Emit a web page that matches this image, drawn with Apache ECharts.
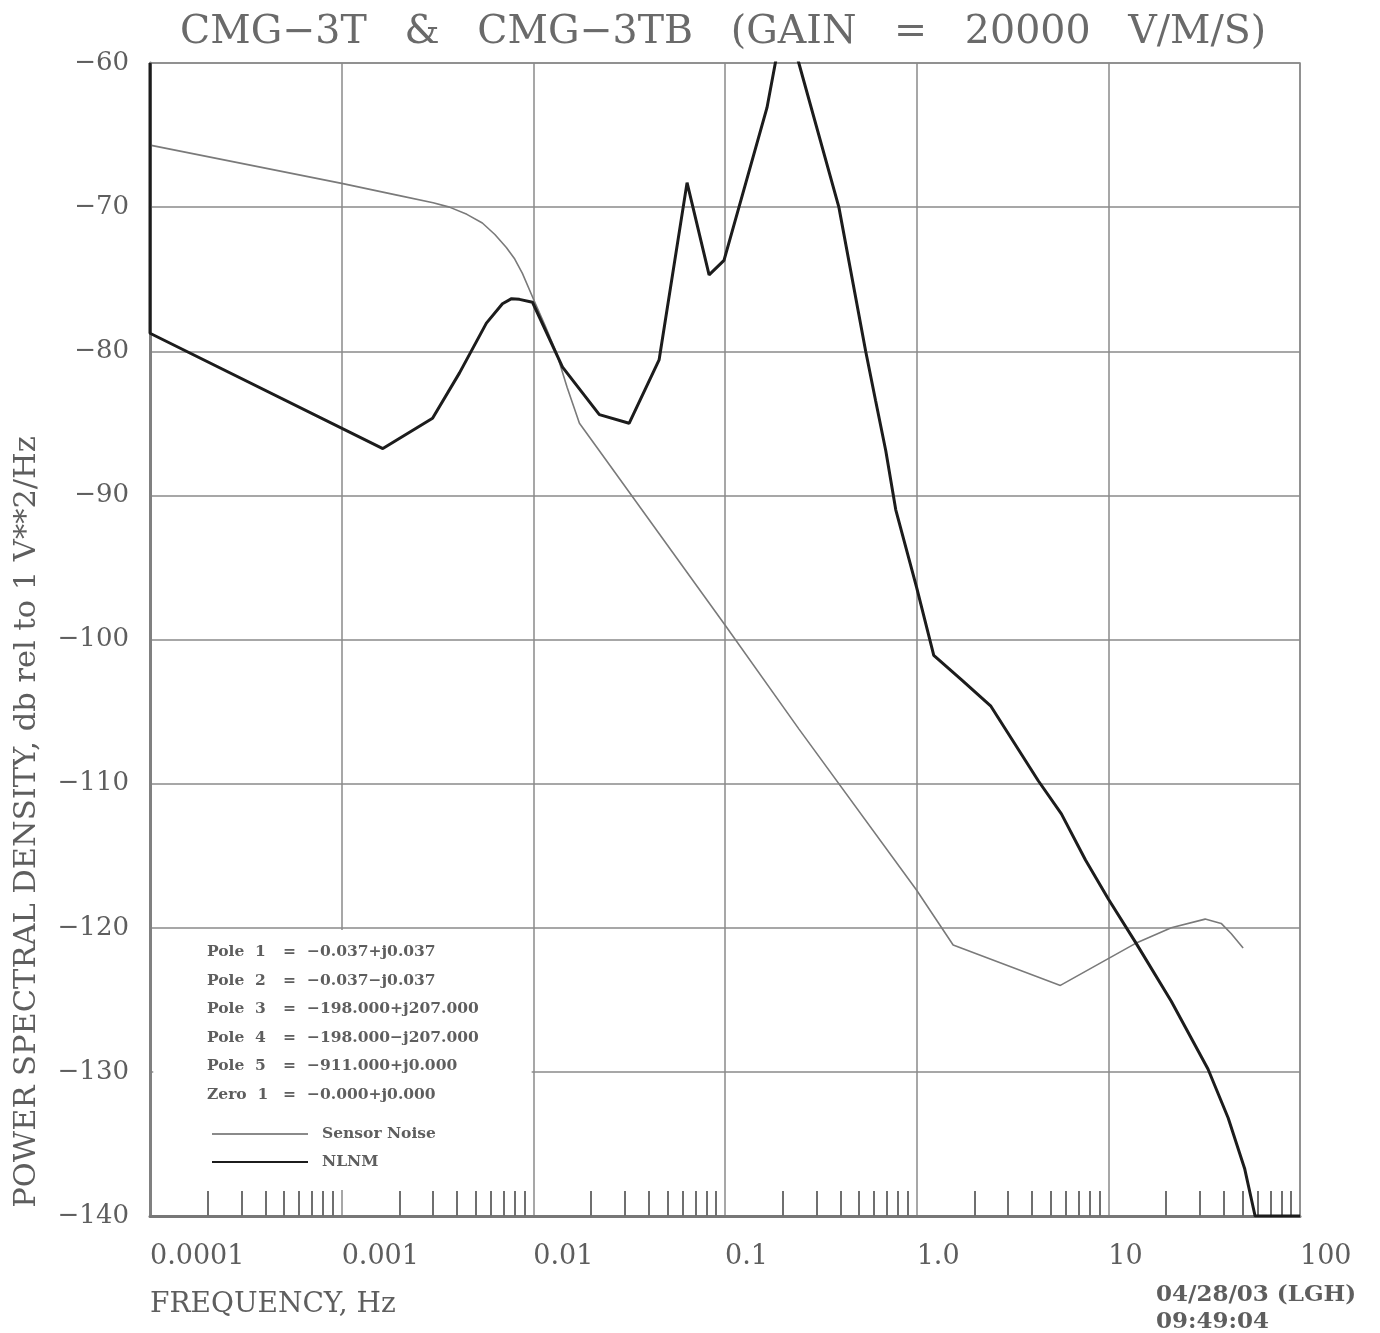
<!DOCTYPE html>
<html>
<head>
<meta charset="utf-8">
<script src="https://cdn.jsdelivr.net/npm/echarts@6.0.0/dist/echarts.min.js"></script>
<style>
html,body{margin:0;padding:0;background:#fff;}
#chart{width:1380px;height:1333px;}
</style>
</head>
<body>
<div id="chart"></div>
<script>
// ---------- data ----------
const titleText = 'CMG−3T   &   CMG−3TB   (GAIN   =   20000   V/M/S)';
const yAxisTitle = 'POWER SPECTRAL DENSITY, db rel to 1 V**2/Hz';
const xAxisTitle = 'FREQUENCY, Hz';
const xTickLabels = ['0.0001', '0.001', '0.01', '0.1', '1.0', '10', '100'];
const minorMultipliers = [2, 3, 4, 5, 6, 7, 8, 9];
const decadeExponents = [-4, -3, -2, -1, 0, 1];
const legendNames = ['Sensor Noise', 'NLNM'];
const poleNames = ['Pole  1', 'Pole  2', 'Pole  3', 'Pole  4', 'Pole  5', 'Zero  1'];
const poleEquals = ['=', '=', '=', '=', '=', '='];
const poleValues = ['−0.037+j0.037', '−0.037−j0.037', '−198.000+j207.000', '−198.000−j207.000', '−911.000+j0.000', '−0.000+j0.000'];
const stampLines = ['04/28/03 (LGH)', '09:49:04'];

const sensorFreq = [0.0001, 0.001, 0.002, 0.003, 0.00365, 0.0045, 0.00542, 0.0063, 0.00723, 0.008, 0.00877, 0.0101, 0.0115, 0.0132, 0.015, 0.0174, 0.0221, 0.1, 0.2427, 1.0, 1.55, 5.62, 13.8, 21.3, 32, 38.8, 43.7, 50.5];
const sensorPsd  = [-65.7, -68.35, -69.2, -69.7, -70.0, -70.5, -71.1, -71.9, -72.8, -73.6, -74.6, -76.5, -78.2, -80.1, -82.5, -85.0, -86.9, -99.0, -106.2, -117.4, -121.2, -124.0, -121.1, -120.0, -119.4, -119.7, -120.4, -121.4];

const nlnmFreq = [0.0001, 0.0001, 0.00164, 0.00298, 0.00412, 0.00569, 0.0069, 0.0077, 0.00846, 0.0099, 0.0142, 0.0221, 0.0316, 0.0453, 0.0634, 0.0826, 0.0988, 0.1656, 0.205, 0.2427, 0.3927, 0.542, 0.61, 0.69, 0.778, 1.0, 1.228, 1.716, 2.43, 4.31, 5.69, 7.6, 10, 14, 21.3, 33.1, 42.2, 51.4, 58.3, 100];
const nlnmPsd  = [-60, -78.75, -86.75, -84.65, -81.5, -78.05, -76.7, -76.35, -76.4, -76.6, -81.1, -84.4, -85.0, -80.6, -68.3, -74.7, -73.7, -63.1, -56.5, -60.0, -70.0, -80.0, -83.4, -86.9, -91.0, -96.4, -101.1, -102.8, -104.6, -109.8, -112.1, -115.3, -118.0, -121.1, -125.1, -129.8, -133.2, -136.7, -140.0, -140.0];

// ---------- derived ----------
const sensorData = sensorFreq.map((f, i) => [f, sensorPsd[i]]);
const nlnmData = nlnmFreq.map((f, i) => [f, nlnmPsd[i]]);
const minorTickExps = [];
decadeExponents.forEach(d => minorMultipliers.forEach(m => minorTickExps.push(d + Math.log10(m))));

const serif = '"DejaVu Serif", "Liberation Serif", serif';
const gridColor = '#8a8a8a';
const textGray = '#5e5e5e';

const poleGraphics = [];
poleNames.forEach((n, i) => {
  const y = 952 + i * 28.6;
  const st = {fontFamily: serif, fontSize: 15.5, fontWeight: 'bold', fill: textGray, verticalAlign: 'middle'};
  poleGraphics.push({type: 'text', z: 100, x: 207, y: y, style: Object.assign({text: n}, st)});
  poleGraphics.push({type: 'text', z: 100, x: 283, y: y, style: Object.assign({text: poleEquals[i]}, st)});
  poleGraphics.push({type: 'text', z: 100, x: 307, y: y, style: Object.assign({text: poleValues[i]}, st)});
});

const chart = echarts.init(document.getElementById('chart'), null, {renderer: 'canvas'});
chart.setOption({
  animation: false,
  backgroundColor: '#fff',
  title: {
    text: titleText, left: 180, top: 13, padding: 0,
    textStyle: {fontFamily: serif, fontSize: 39.5, fontWeight: 'normal', color: '#6a6a6a'}
  },
  grid: {left: 150, right: 80, top: 63, bottom: 117, show: true, borderColor: gridColor, borderWidth: 1.5, backgroundColor: 'transparent'},
  legend: {
    data: legendNames.map(n => ({name: n, icon: 'rect'})),
    orient: 'vertical', left: 207, top: 1121, z: 100,
    itemWidth: 96, itemHeight: 2, itemGap: 12,
    textStyle: {fontFamily: serif, fontSize: 15.5, fontWeight: 'bold', color: textGray, padding: [0, 0, 0, 9], lineHeight: 15},
    selectedMode: false
  },
  xAxis: [{
    type: 'log', logBase: 10, min: 0.0001, max: 100, position: 'bottom',
    axisLine: {show: true, onZero: false, lineStyle: {color: '#777', width: 3}},
    axisTick: {show: false},
    minorTick: {show: false},
    splitLine: {show: true, lineStyle: {color: gridColor, width: 1.5}},
    axisLabel: {
      show: true, align: 'left', margin: 27,
      fontFamily: serif, fontSize: 27, color: textGray,
      formatter: v => xTickLabels[Math.round(Math.log10(v)) + 4] || ''
    }
  }, {
    type: 'value', min: -4, max: 2, position: 'bottom', gridIndex: 0,
    axisLine: {show: false, onZero: false},
    axisLabel: {show: false},
    splitLine: {show: false},
    axisTick: {show: true, inside: true, length: 25, customValues: minorTickExps, lineStyle: {color: '#6f6f6f', width: 2}}
  }],
  yAxis: {
    type: 'value', min: -140, max: -60, interval: 10,
    axisLine: {show: true, onZero: false, lineStyle: {color: '#808080', width: 3}},
    axisTick: {show: false},
    splitLine: {show: true, lineStyle: {color: gridColor, width: 1.5}},
    axisLabel: {
      margin: 21, fontFamily: serif, fontSize: 26, color: textGray,
      formatter: v => '−' + Math.abs(v)
    }
  },
  series: [{
    name: 'Sensor Noise', type: 'line', xAxisIndex: 0, data: sensorData,
    symbol: 'none', smooth: false, clip: true,
    lineStyle: {color: '#7a7a7a', width: 1.6},
    itemStyle: {color: '#8a8a8a'},
    markArea: {
      silent: true,
      itemStyle: {color: '#ffffff', borderWidth: 0},
      data: [[{coord: [0.000104, -120.15]}, {coord: [0.0098, -138.2]}]]
    },
    z: 3
  }, {
    name: 'NLNM', type: 'line', xAxisIndex: 0, data: nlnmData,
    symbol: 'none', smooth: false, clip: true,
    lineStyle: {color: '#1c1c1c', width: 3},
    itemStyle: {color: '#1c1c1c'},
    z: 4
  }],
  graphic: [
    {type: 'text', z: 100, x: 27, y: 822, rotation: Math.PI / 2,
     style: {text: yAxisTitle, fontFamily: serif, fontSize: 30.5, fill: textGray, align: 'center', verticalAlign: 'middle'}},
    {type: 'text', z: 100, x: 150, y: 1305,
     style: {text: xAxisTitle, fontFamily: serif, fontSize: 28, fill: textGray, verticalAlign: 'middle'}},
    {type: 'text', z: 100, x: 1156, y: 1295,
     style: {text: stampLines[0], fontFamily: serif, fontSize: 23, fontWeight: 'bold', fill: textGray, verticalAlign: 'middle'}},
    {type: 'text', z: 100, x: 1156, y: 1322,
     style: {text: stampLines[1], fontFamily: serif, fontSize: 23, fontWeight: 'bold', fill: textGray, verticalAlign: 'middle'}}
  ].concat(poleGraphics)
});
</script>
</body>
</html>
